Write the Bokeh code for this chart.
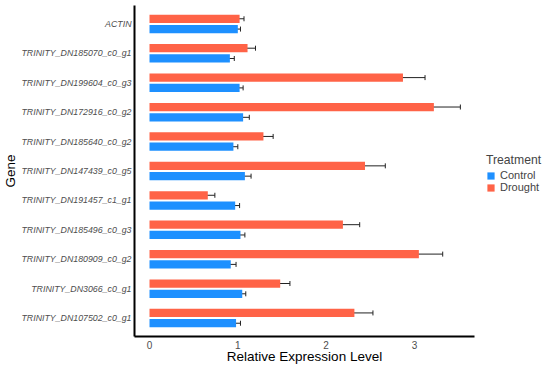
from bokeh.plotting import figure
from bokeh.models import ColumnDataSource, FactorRange, Range1d, Whisker, TeeHead, Legend, LegendItem
from bokeh.transform import dodge
from bokeh.embed import file_html
from bokeh.resources import INLINE

genes = ["ACTIN", "TRINITY_DN185070_c0_g1", "TRINITY_DN199604_c0_g3", "TRINITY_DN172916_c0_g2",
         "TRINITY_DN185640_c0_g2", "TRINITY_DN147439_c0_g5", "TRINITY_DN191457_c1_g1",
         "TRINITY_DN185496_c0_g3", "TRINITY_DN180909_c0_g2", "TRINITY_DN3066_c0_g1",
         "TRINITY_DN107502_c0_g1"]
control = [1.00, 0.91, 1.02, 1.06, 0.95, 1.08, 0.97, 1.03, 0.92, 1.05, 0.98]
control_err = [0.03, 0.05, 0.04, 0.07, 0.05, 0.07, 0.05, 0.05, 0.06, 0.04, 0.05]
drought = [1.02, 1.11, 2.87, 3.22, 1.29, 2.44, 0.66, 2.19, 3.05, 1.48, 2.32]
drought_err = [0.05, 0.09, 0.25, 0.30, 0.11, 0.23, 0.08, 0.19, 0.27, 0.11, 0.21]
x_ticks = [0, 1, 2, 3]

src = ColumnDataSource(dict(
    gene=genes, control=control, drought=drought,
    c_lo=[v - e for v, e in zip(control, control_err)],
    c_hi=[v + e for v, e in zip(control, control_err)],
    d_lo=[v - e for v, e in zip(drought, drought_err)],
    d_hi=[v + e for v, e in zip(drought, drought_err)],
))

FONT = "Liberation Sans"
p = figure(frame_width=340, frame_height=331, output_backend="svg", toolbar_location=None,
           y_range=FactorRange(factors=genes[::-1], range_padding=0.023),
           x_range=Range1d(-0.17, 3.68),
           min_border_left=128, min_border_top=5, min_border_right=66, min_border_bottom=0)

off = 0.175
h = 0.28
r_d = p.hbar(y=dodge("gene", off, range=p.y_range), left=0, right="drought", height=h,
             source=src, fill_color="#FF6347", line_color=None)
r_c = p.hbar(y=dodge("gene", -off, range=p.y_range), left=0, right="control", height=h,
             source=src, fill_color="#1E90FF", line_color=None)

for base, lo, hi in [(dodge("gene", off, range=p.y_range), "d_lo", "d_hi"),
                     (dodge("gene", -off, range=p.y_range), "c_lo", "c_hi")]:
    w = Whisker(base=base, lower=lo, upper=hi, dimension="width", source=src,
                line_color="#222222", line_width=1,
                upper_head=TeeHead(size=5, line_color="#222222", line_width=1),
                lower_head=TeeHead(size=5, line_color="#222222", line_width=1))
    p.add_layout(w)

p.xgrid.grid_line_color = None
p.ygrid.grid_line_color = None
p.outline_line_color = None

for ax in (p.xaxis[0], p.yaxis[0]):
    ax.axis_line_color = "black"
    ax.axis_line_width = 2
    ax.major_tick_line_color = None
    ax.minor_tick_line_color = None
    ax.major_tick_out = 0
    ax.major_tick_in = 0
    ax.major_label_text_color = "#4D4D4D"
    ax.major_label_text_font = FONT
    ax.axis_label_text_font = FONT
    ax.axis_label_text_font_style = "normal"
    ax.axis_label_text_color = "black"
    ax.axis_label_text_font_size = "13.5px"

p.xaxis.ticker = x_ticks
p.xaxis.axis_label = "Relative Expression Level"
p.xaxis.major_label_text_font_size = "10px"
p.xaxis.major_label_standoff = 4
p.xaxis.axis_label_standoff = -3

p.yaxis.axis_label = "Gene"
p.yaxis.major_label_text_font_size = "8.8px"
p.yaxis.major_label_text_font_style = "italic"
p.yaxis.major_label_standoff = 3
p.yaxis.axis_label_standoff = 0

legend = Legend(items=[LegendItem(label="Control", renderers=[r_c]),
                       LegendItem(label="Drought", renderers=[r_d])],
                title="Treatment", location=(12, 143),
                title_text_font=FONT, title_text_font_size="12.2px", title_text_font_style="normal",
                label_text_font=FONT, label_text_font_size="11px", label_text_line_height=0.8,
                glyph_width=9, glyph_height=9, label_height=9, spacing=0,
                label_standoff=5, title_standoff=2,
                padding=0, margin=0, border_line_color=None, background_fill_alpha=0)
p.add_layout(legend, "right")

open("out.html", "w").write(file_html(p, INLINE))
